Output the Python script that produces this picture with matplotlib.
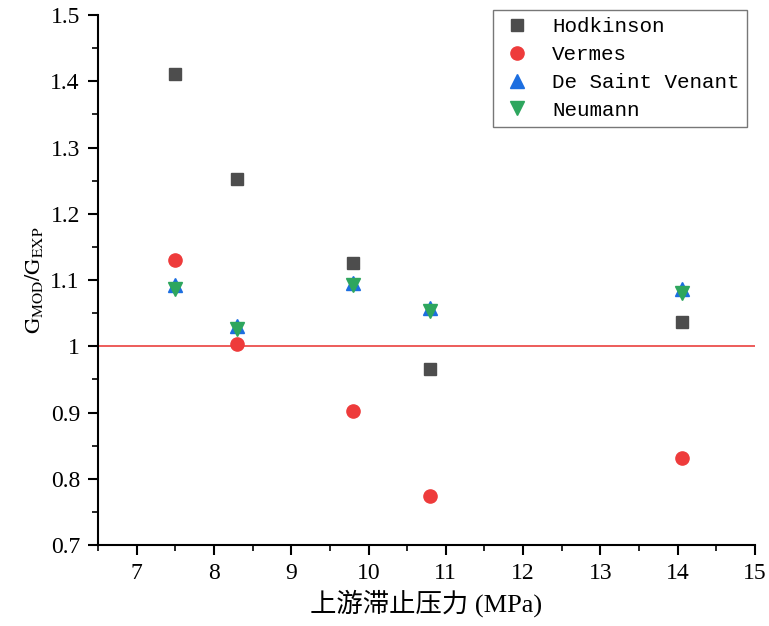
import matplotlib
matplotlib.use("Agg")
import matplotlib.pyplot as plt
from matplotlib.ticker import MultipleLocator, FixedLocator

pressure = [7.5, 8.3, 9.8, 10.8, 14.05]
hodkinson = [1.411, 1.252, 1.126, 0.965, 1.036]
vermes = [1.130, 1.003, 0.903, 0.774, 0.832]
saint_venant = [1.092, 1.030, 1.095, 1.058, 1.086]
neumann = [1.086, 1.026, 1.092, 1.053, 1.080]

x_ticks = [7, 8, 9, 10, 11, 12, 13, 14, 15]
y_ticks = [0.7, 0.8, 0.9, 1.0, 1.1, 1.2, 1.3, 1.4, 1.5]
y_tick_labels = ["0.7", "0.8", "0.9", "1", "1.1", "1.2", "1.3", "1.4", "1.5"]

plt.rcParams['mathtext.fontset'] = 'stix'
tick_font = ['Liberation Serif', 'Noto Sans CJK SC']
legend_font = ['Liberation Mono', 'Noto Sans CJK SC']

fig = plt.figure(figsize=(7.69, 6.26), dpi=100)
ax = fig.add_axes([0.1274, 0.1294, 0.8544, 0.8466])

ax.axhline(1.0, color='#e8302e', lw=1.1, zorder=1)

ax.plot(pressure, hodkinson, ls='none', marker='s', ms=8, color='#4d4d4d', label='Hodkinson', zorder=3)
ax.plot(pressure, vermes, ls='none', marker='o', ms=9.5, color='#ee3b3b', label='Vermes', zorder=3)
ax.plot(pressure, saint_venant, ls='none', marker='^', ms=10, color='#1c6ee0', label='De Saint Venant', zorder=3)
ax.plot(pressure, neumann, ls='none', marker='v', ms=10, color='#2ea65e', label='Neumann', zorder=4)

ax.set_xlim(6.5, 15)
ax.set_ylim(0.7, 1.5)
ax.xaxis.set_major_locator(FixedLocator(x_ticks))
ax.xaxis.set_minor_locator(MultipleLocator(0.5))
ax.yaxis.set_major_locator(FixedLocator(y_ticks))
ax.set_yticklabels(y_tick_labels)
ax.yaxis.set_minor_locator(MultipleLocator(0.05))

for s in ['top', 'right']:
    ax.spines[s].set_visible(False)
for s in ['left', 'bottom']:
    ax.spines[s].set_linewidth(1.5)

ax.tick_params(which='major', direction='out', length=7, width=1.5, pad=6)
ax.tick_params(which='minor', direction='out', length=4, width=1.2)
for lab in ax.get_xticklabels() + ax.get_yticklabels():
    lab.set_family(tick_font)
    lab.set_fontsize(17)

ax.set_xlabel('上游滞止压力 (MPa)', family=tick_font, fontsize=19, labelpad=4)
ax.set_ylabel(r'$\mathrm{G_{MOD}/G_{EXP}}$', fontsize=16, labelpad=4)

leg = ax.legend(loc='upper right', bbox_to_anchor=(0.9714, 0.984), bbox_transform=fig.transFigure,
                prop={'family': legend_font, 'size': 15}, frameon=True, fancybox=False,
                edgecolor='#555555', borderpad=0.35, handletextpad=0.9, labelspacing=0.42,
                handlelength=1.6, borderaxespad=0)
leg.get_frame().set_linewidth(1.0)

fig.savefig('out.png', dpi=100, facecolor='white')
